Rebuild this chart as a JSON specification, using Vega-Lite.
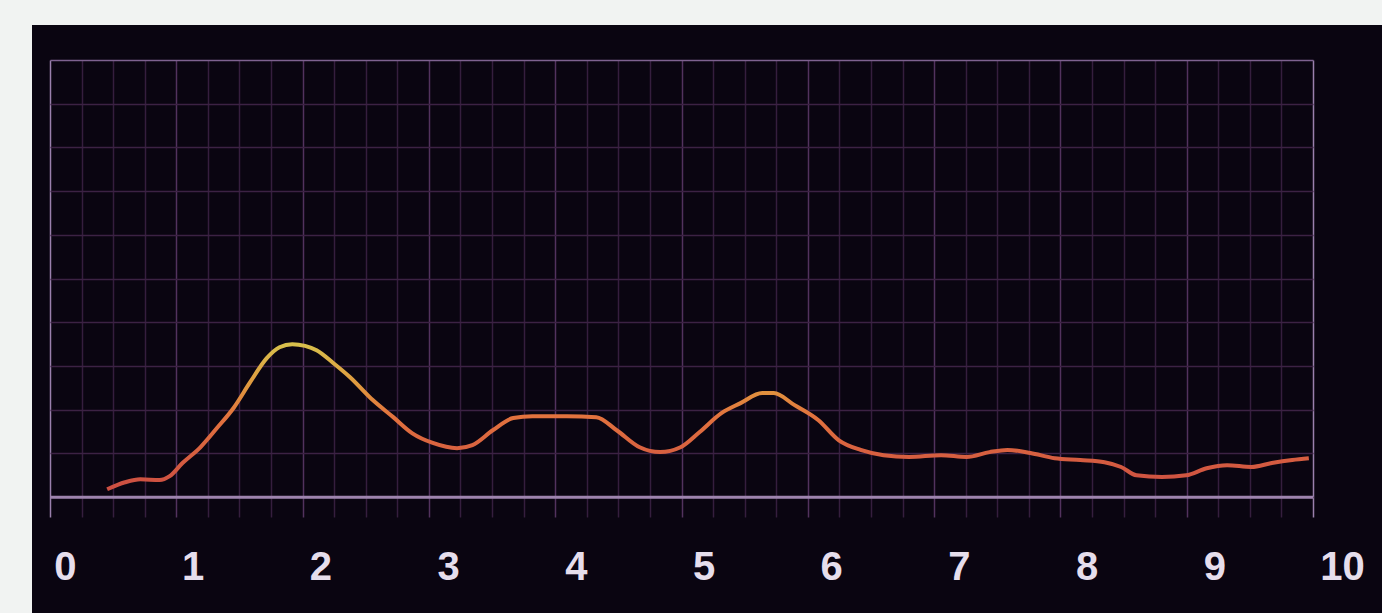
{
  "$schema": "https://vega.github.io/schema/vega-lite/v6.json",
  "autosize": {"type": "none"},
  "width": 1350,
  "height": 588,
  "padding": {"left": 32, "top": 25, "right": 0, "bottom": 0},
  "background": "#f1f3f2",
  "config": {
    "view": {"fill": "#0a0511", "stroke": null},
    "axis": {"labelFont": "Liberation Sans"}
  },
  "datasets": {
    "trace": [
      {"t": 0.33, "v": 1.8},
      {"t": 0.47, "v": 3.4},
      {"t": 0.59, "v": 4.1},
      {"t": 0.74, "v": 3.9},
      {"t": 0.82, "v": 4.8},
      {"t": 0.92, "v": 7.8},
      {"t": 1.06, "v": 11.4},
      {"t": 1.19, "v": 15.8},
      {"t": 1.32, "v": 20.4},
      {"t": 1.45, "v": 26.3},
      {"t": 1.58, "v": 31.8},
      {"t": 1.68, "v": 34.3},
      {"t": 1.78, "v": 35.0},
      {"t": 1.88, "v": 34.6},
      {"t": 1.97, "v": 33.6},
      {"t": 2.10, "v": 30.7},
      {"t": 2.23, "v": 27.5},
      {"t": 2.41, "v": 22.2},
      {"t": 2.57, "v": 18.3},
      {"t": 2.72, "v": 14.6},
      {"t": 2.88, "v": 12.4},
      {"t": 3.07, "v": 11.2},
      {"t": 3.19, "v": 11.9},
      {"t": 3.35, "v": 15.3},
      {"t": 3.51, "v": 18.1},
      {"t": 3.66, "v": 18.5},
      {"t": 3.93, "v": 18.5},
      {"t": 4.16, "v": 18.3},
      {"t": 4.32, "v": 15.3},
      {"t": 4.50, "v": 11.4},
      {"t": 4.66, "v": 10.3},
      {"t": 4.82, "v": 11.4},
      {"t": 4.97, "v": 14.9},
      {"t": 5.14, "v": 19.2},
      {"t": 5.29, "v": 21.5},
      {"t": 5.46, "v": 23.8},
      {"t": 5.55, "v": 23.8},
      {"t": 5.71, "v": 21.1},
      {"t": 5.90, "v": 17.6},
      {"t": 6.06, "v": 13.0},
      {"t": 6.23, "v": 10.8},
      {"t": 6.41, "v": 9.6},
      {"t": 6.61, "v": 9.2},
      {"t": 6.86, "v": 9.6},
      {"t": 7.06, "v": 9.2},
      {"t": 7.24, "v": 10.3},
      {"t": 7.38, "v": 10.8},
      {"t": 7.56, "v": 10.1},
      {"t": 7.75, "v": 8.9},
      {"t": 7.95, "v": 8.5},
      {"t": 8.14, "v": 8.0},
      {"t": 8.27, "v": 6.9},
      {"t": 8.39, "v": 5.0},
      {"t": 8.59, "v": 4.6},
      {"t": 8.78, "v": 5.0},
      {"t": 8.94, "v": 6.6},
      {"t": 9.10, "v": 7.3},
      {"t": 9.29, "v": 6.9},
      {"t": 9.45, "v": 7.8},
      {"t": 9.61, "v": 8.5},
      {"t": 9.74, "v": 8.9}
    ]
  },
  "layer": [
    {
      "data": {"values": [{}]},
      "mark": {"type": "rule", "color": "#9e84ae", "strokeWidth": 3},
      "encoding": {
        "x": {
          "datum": 0,
          "type": "quantitative",
          "scale": {"domain": [-0.1425, 10.546], "nice": false, "zero": false},
          "axis": {
            "orient": "bottom",
            "offset": -96,
            "values": [0, 0.25, 0.5, 0.75, 1, 1.25, 1.5, 1.75, 2, 2.25, 2.5, 2.75, 3, 3.25, 3.5, 3.75, 4, 4.25, 4.5, 4.75, 5, 5.25, 5.5, 5.75, 6, 6.25, 6.5, 6.75, 7, 7.25, 7.5, 7.75, 8, 8.25, 8.5, 8.75, 9, 9.25, 9.5, 9.75, 10],
            "labels": false,
            "domain": false,
            "grid": false,
            "ticks": true,
            "tickSize": -457,
            "tickWidth": 1.5,
            "tickColor": {
              "condition": [
                {"test": "datum.value == 0 || datum.value == 10", "value": "#9a80ad"},
                {"test": "datum.value % 1 == 0", "value": "#52325e"}
              ],
              "value": "#351e3e"
            },
            "title": null
          }
        },
        "x2": {"datum": 10},
        "y": {"datum": 0, "type": "quantitative"}
      }
    },
    {
      "data": {"name": "trace"},
      "mark": {
        "type": "line",
        "interpolate": "monotone",
        "strokeWidth": 4,
        "color": {
          "gradient": "linear",
          "x1": 0, "y1": 0, "x2": 0, "y2": 1,
          "stops": [
            {"offset": 0, "color": "#d8c04c"},
            {"offset": 0.3, "color": "#e0963e"},
            {"offset": 0.5, "color": "#e2723e"},
            {"offset": 1, "color": "#cc4e42"}
          ]
        }
      },
      "encoding": {
        "x": {
          "field": "t",
          "type": "quantitative",
          "scale": {"domain": [-0.2584, 10.313], "nice": false, "zero": false},
          "axis": {
            "orient": "bottom",
            "offset": -70,
            "values": [0, 1, 2, 3, 4, 5, 6, 7, 8, 9, 10],
            "ticks": false,
            "domain": false,
            "grid": false,
            "labelPadding": 4,
            "labelFontSize": 40,
            "labelFontWeight": "bold",
            "labelColor": "#e6deec",
            "labelOverlap": false,
            "labelFlush": false,
            "title": null
          }
        },
        "y": {
          "field": "v",
          "type": "quantitative",
          "scale": {"domain": [-26.5, 108], "nice": false, "zero": false},
          "axis": {
            "orient": "left",
            "offset": -18,
            "values": [0, 10, 20, 30, 40, 50, 60, 70, 80, 90, 100],
            "labels": false,
            "domain": false,
            "grid": false,
            "ticks": true,
            "tickSize": -1263,
            "tickWidth": 1.5,
            "tickColor": {
              "condition": {"test": "datum.value == 100", "value": "#7e6290"},
              "value": "#3c2244"
            },
            "title": null
          }
        }
      }
    }
  ],
  "resolve": {"scale": {"x": "independent"}, "axis": {"x": "independent"}}
}
